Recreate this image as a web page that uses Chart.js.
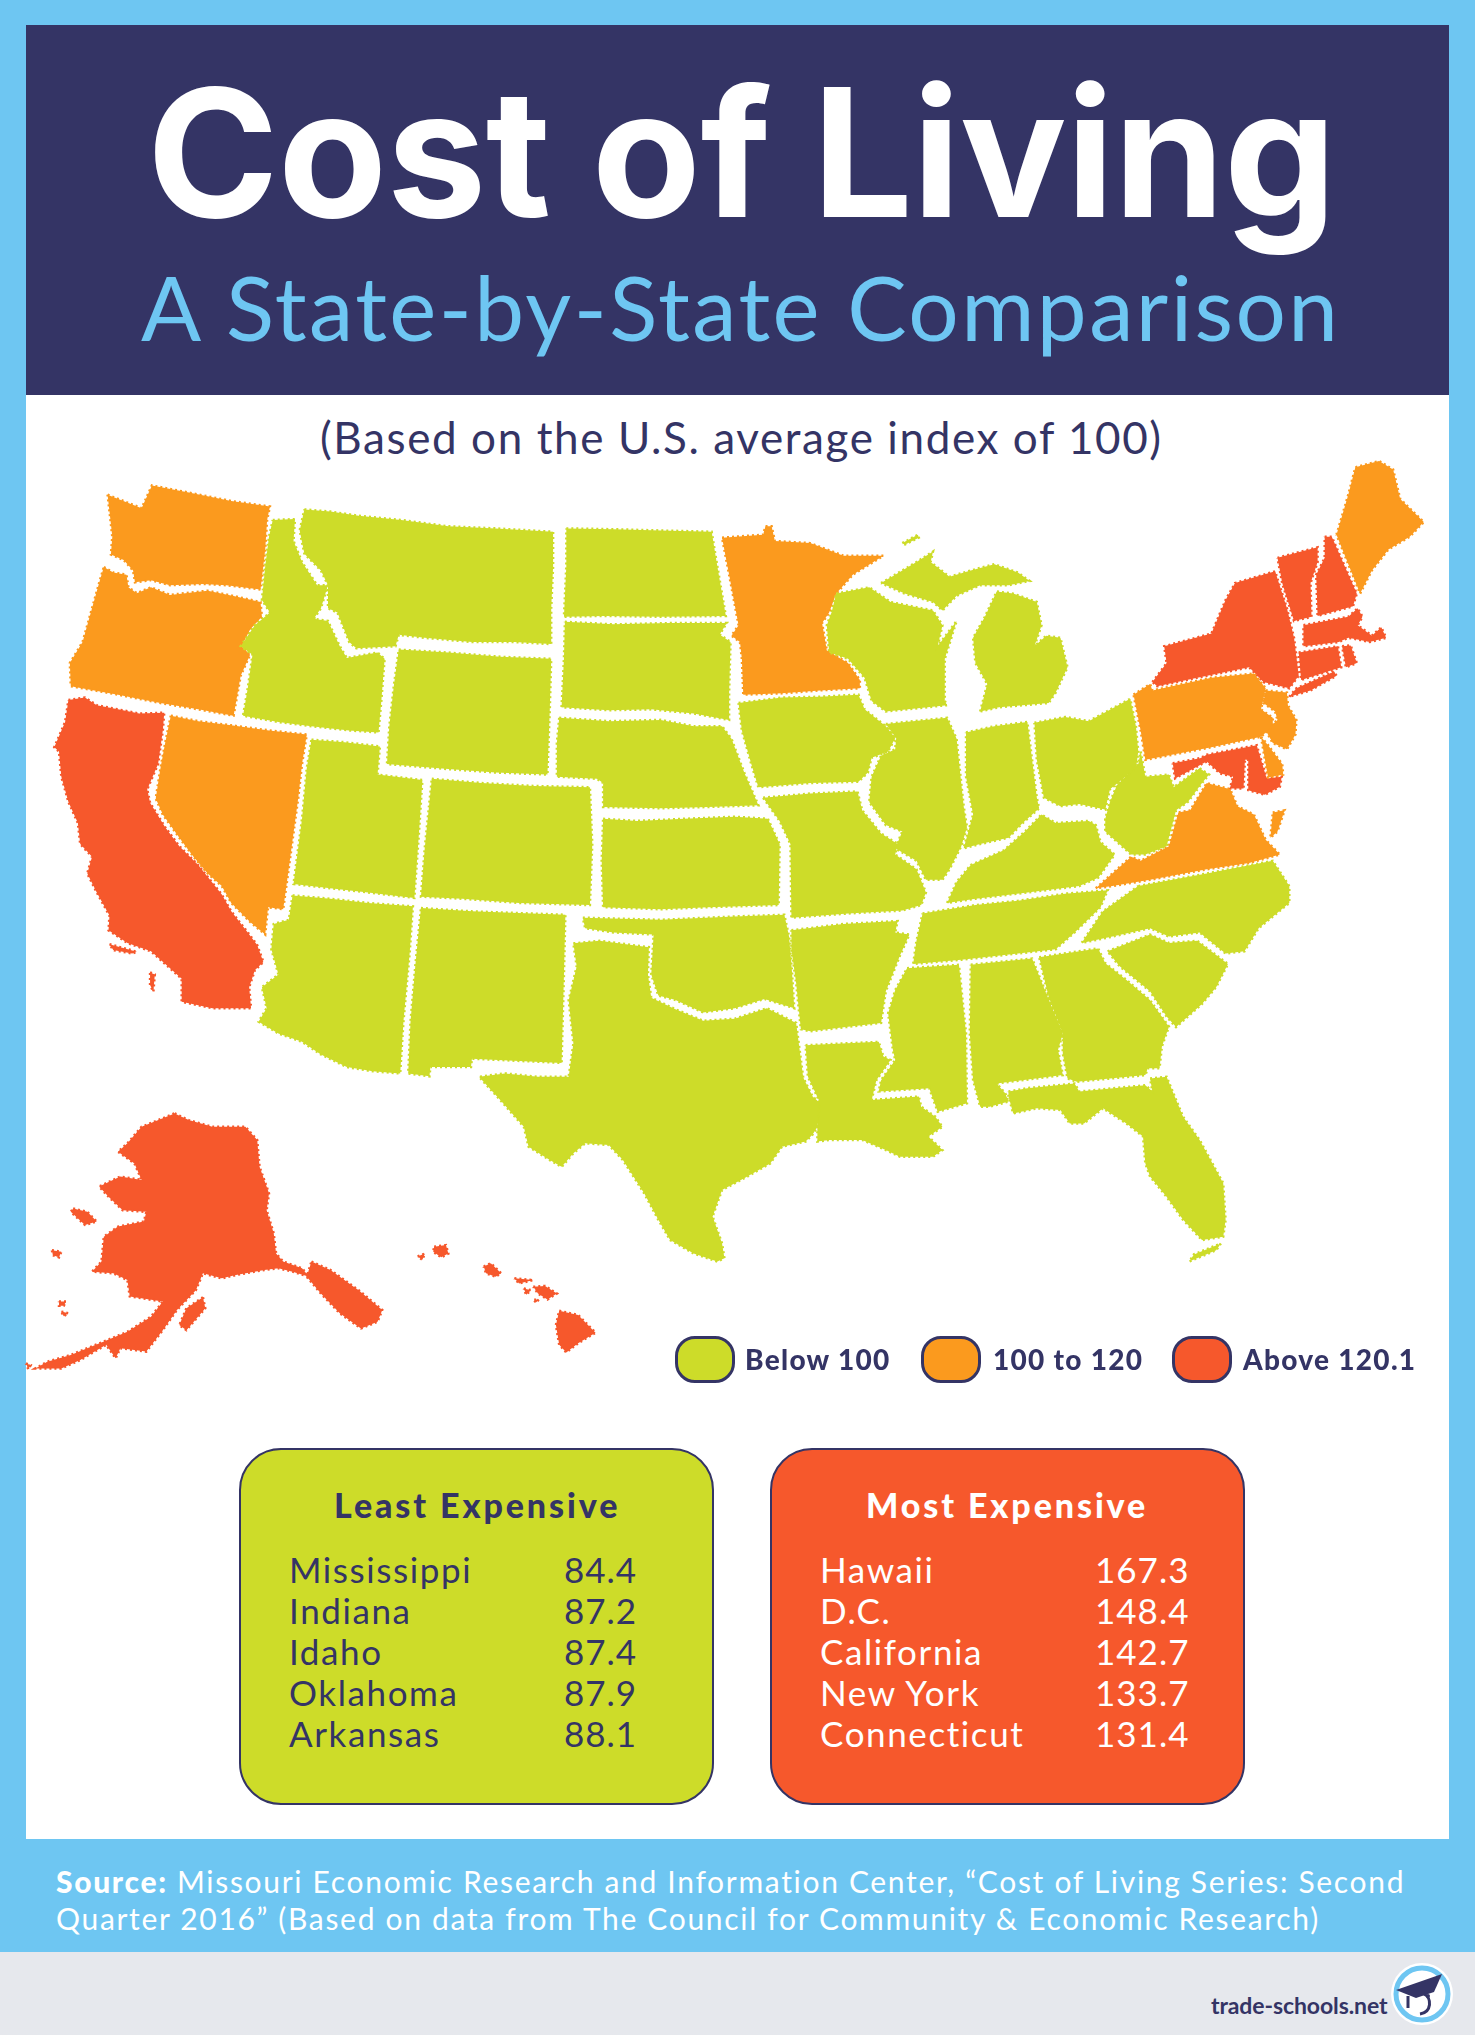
<!DOCTYPE html>
<html>
<head>
<meta charset="utf-8">
<title>Cost of Living</title>
<script src="https://cdn.jsdelivr.net/npm/chart.js@4"></script>
<style>
html,body{margin:0;padding:0;background:#6ec6f2;}
#page{position:relative;width:1475px;height:2035px;overflow:hidden;font-family:Lato,sans-serif;color:#343465;background:#6ec6f2;}
#page div,#page span.t{position:absolute;white-space:nowrap;}
#head{left:26px;top:25px;width:1423px;height:370px;background:#343465;}
#sheet{left:26px;top:395px;width:1423px;height:1444px;background:#fff;}
#foot{left:0;top:1952px;width:1475px;height:83px;background:#e6e8ed;}
#mapWrap{left:0;top:440px;width:1475px;height:960px;}
.box{width:471px;height:353px;border:2px solid #343465;border-radius:42px;box-sizing:content-box;}
.swatch{width:54px;height:41px;border:3px solid #343465;border-radius:20px;}
.legendText{font-weight:900;font-size:28px;letter-spacing:1.3px;line-height:30px;top:1344px;}
</style>
</head>
<body>
<div id="page">
  <div id="head"></div>
  <div id="sheet"></div>
  <div id="foot"></div>
  <div style="left:147px;top:43px;font-family:Inter,Lato,sans-serif;font-size:178px;line-height:220px;font-weight:700;color:#fff;letter-spacing:-0.6px;">Cost of Living</div>
  <div style="left:141px;top:252px;font-size:89px;line-height:110px;color:#6ec6f2;letter-spacing:2.45px;">A State-by-State Comparison</div>
  <div style="left:320px;top:409px;font-size:44px;line-height:56px;letter-spacing:1.6px;">(Based on the U.S. average index of 100)</div>
  <div id="mapWrap"><canvas id="mapChart"></canvas></div>
  <div id="legend"></div>
  <div id="tables"></div>
  <div style="left:56px;top:1863px;font-size:30px;line-height:37px;color:#fff;letter-spacing:1.68px;"><b style="font-weight:900">Source:</b> Missouri Economic Research and Information Center, “Cost of Living Series: Second<br>Quarter 2016” (Based on data from The Council for Community &amp; Economic Research)</div>
  <div style="left:1211px;top:1990px;font-size:23px;line-height:30px;font-weight:700;letter-spacing:-0.1px;">trade-schools.net</div>
  <svg style="position:absolute;left:1390px;top:1962px" width="64" height="64" viewBox="0 0 64 64">
    <circle cx="32" cy="32" r="31" fill="#fff"/>
    <circle cx="32" cy="32" r="26" fill="#fff" stroke="#6ec6f2" stroke-width="5"/>
    <path d="M6 28 L52 12 L44 30 L26 36 Z" fill="#343465"/>
    <path d="M18 34 L18 46 M34 32 C42 36 42 50 30 52" fill="none" stroke="#343465" stroke-width="3"/>
    <circle cx="38" cy="34" r="2" fill="#343465"/>
  </svg>
</div>
<script>
// state outlines, in map units
const WA = [[[228,130],[300,162],[322,108],[400,125],[490,145],[572,158],[566,190],[562,260],[552,355],[480,345],[430,342],[360,345],[320,333],[286,338],[282,310],[262,285],[235,272],[238,230],[232,170]]];
const OR = [[[220,302],[240,315],[268,320],[272,350],[290,364],[320,350],[360,368],[440,358],[500,372],[552,385],[555,420],[530,450],[512,490],[530,510],[510,560],[495,655],[420,640],[340,625],[250,605],[150,585],[148,530],[175,480],[195,400],[210,340]]];
const CA = [[[145,618],[180,612],[205,630],[250,640],[295,650],[348,648],[345,690],[335,770],[312,830],[318,862],[350,920],[380,965],[420,1010],[445,1045],[470,1080],[490,1120],[525,1170],[545,1200],[558,1240],[540,1260],[528,1300],[532,1350],[450,1350],[385,1335],[385,1280],[355,1250],[320,1215],[270,1195],[230,1165],[232,1130],[205,1075],[185,1030],[195,990],[170,960],[165,910],[145,860],[130,800],[125,740],[115,730],[138,670]],
  [[232,1198],[290,1216],[280,1220],[240,1212]],[[318,1265],[328,1270],[325,1311],[318,1295]]];
const NV = [[[362,655],[420,668],[490,678],[570,690],[650,700],[640,770],[632,850],[620,950],[608,1050],[600,1115],[568,1110],[562,1175],[530,1145],[490,1100],[470,1060],[440,1030],[410,990],[380,945],[345,890],[330,852],[340,780],[350,720]]];
const ID = [[[578,190],[625,188],[622,240],[640,290],[672,345],[695,345],[680,400],[665,425],[695,430],[720,490],[735,518],[800,505],[815,520],[808,620],[802,695],[740,690],[660,680],[590,670],[515,655],[525,590],[535,510],[510,490],[540,440],[572,410],[555,380],[562,300],[570,230]]];
const MT = [[[645,165],[700,170],[760,180],[850,190],[950,205],[1050,210],[1172,218],[1172,300],[1168,400],[1168,485],[1090,480],[1000,480],[900,470],[845,463],[838,490],[755,495],[740,480],[715,410],[695,400],[695,345],[680,310],[645,270],[635,215]]];
const WY = [[[845,498],[950,505],[1060,515],[1168,520],[1165,640],[1160,795],[1050,790],[950,782],[820,770],[825,680],[835,580]]];
const CO = [[[915,805],[1020,815],[1130,822],[1250,825],[1255,960],[1250,1105],[1100,1100],[980,1090],[892,1085],[900,970],[910,860]]];
const UT = [[[660,712],[730,718],[805,728],[800,795],[895,808],[888,930],[878,1088],[780,1075],[700,1065],[622,1055],[640,900],[650,780]]];
const AZ = [[[620,1082],[700,1090],[780,1100],[875,1108],[868,1220],[855,1380],[848,1505],[790,1500],[735,1490],[680,1460],[640,1430],[590,1410],[548,1382],[565,1350],[555,1300],[590,1270],[575,1210],[580,1150],[612,1140]]];
const NM = [[[892,1112],[1000,1120],[1198,1128],[1195,1270],[1190,1480],[1000,1470],[998,1490],[912,1490],[910,1512],[865,1505],[870,1380],[880,1250]]];
const ND = [[[1200,210],[1300,212],[1400,215],[1508,218],[1520,300],[1538,418],[1400,420],[1280,418],[1195,420],[1200,300]]];
const SD = [[[1197,432],[1300,438],[1420,435],[1540,435],[1525,462],[1548,480],[1545,600],[1545,665],[1470,650],[1380,640],[1290,642],[1190,635],[1195,520]]];
const NE = [[[1185,660],[1290,668],[1400,665],[1470,680],[1530,680],[1550,710],[1577,790],[1607,868],[1500,872],[1400,875],[1278,872],[1278,815],[1265,805],[1180,800],[1180,720]]];
const KS = [[[1278,900],[1350,905],[1450,900],[1557,895],[1627,900],[1652,960],[1650,1105],[1500,1110],[1400,1115],[1278,1110],[1275,1000]]];
const OK = [[[1235,1135],[1400,1140],[1557,1132],[1662,1128],[1672,1180],[1678,1260],[1683,1350],[1620,1328],[1557,1350],[1490,1360],[1430,1330],[1395,1320],[1380,1270],[1385,1175],[1300,1170],[1240,1160]]];
const TX = [[[1215,1196],[1270,1190],[1375,1205],[1373,1270],[1380,1325],[1430,1352],[1490,1380],[1557,1375],[1625,1350],[1687,1385],[1702,1515],[1722,1560],[1737,1575],[1732,1632],[1722,1650],[1707,1667],[1657,1679],[1632,1719],[1577,1754],[1530,1782],[1510,1845],[1530,1909],[1535,1944],[1520,1952],[1470,1933],[1420,1901],[1395,1853],[1365,1790],[1320,1711],[1290,1675],[1240,1671],[1215,1695],[1190,1727],[1165,1711],[1120,1679],[1110,1632],[1060,1568],[1015,1513],[1070,1505],[1140,1513],[1205,1513],[1215,1434],[1205,1331],[1222,1251]]];
const MN = [[[1530,232],[1617,225],[1622,205],[1635,205],[1642,240],[1717,245],[1787,275],[1872,275],[1807,320],[1772,365],[1757,410],[1742,435],[1752,500],[1797,530],[1822,570],[1822,590],[1737,595],[1657,602],[1575,605],[1572,520],[1568,480],[1550,465],[1565,440],[1545,320]]];
const IA = [[[1565,625],[1657,612],[1737,610],[1819,605],[1832,640],[1877,680],[1897,708],[1882,740],[1847,755],[1839,790],[1819,812],[1717,815],[1607,825],[1592,770],[1572,690]]];
const MO = [[[1617,850],[1717,840],[1817,835],[1827,880],[1867,935],[1902,960],[1897,985],[1942,1020],[1962,1075],[1952,1105],[1912,1118],[1797,1125],[1677,1135],[1675,960],[1652,905]]];
const AR = [[[1677,1165],[1787,1150],[1902,1143],[1897,1170],[1927,1175],[1907,1225],[1877,1310],[1867,1385],[1792,1395],[1717,1405],[1697,1400],[1687,1290],[1677,1210]]];
const LA = [[[1707,1438],[1862,1430],[1872,1465],[1887,1473],[1857,1521],[1847,1568],[1947,1560],[1952,1584],[1982,1608],[1997,1632],[1967,1655],[1997,1687],[1977,1703],[1907,1703],[1877,1687],[1827,1663],[1757,1663],[1732,1667],[1732,1600],[1735,1568],[1712,1513]]];
const MS = [[[1922,1255],[2032,1247],[2047,1410],[2049,1576],[1987,1596],[1969,1540],[1862,1548],[1867,1521],[1897,1473],[1892,1449],[1882,1362],[1897,1307]]];
const AL = [[[2057,1247],[2187,1232],[2217,1315],[2252,1410],[2242,1449],[2252,1509],[2112,1529],[2130,1552],[2137,1572],[2097,1584],[2077,1584],[2062,1521],[2055,1410]]];
const GA = [[[2202,1229],[2327,1208],[2342,1243],[2387,1283],[2437,1331],[2477,1394],[2462,1441],[2457,1493],[2432,1493],[2427,1509],[2282,1525],[2262,1517],[2252,1457],[2252,1410],[2222,1323]]];
const FL = [[[2137,1548],[2177,1540],[2277,1529],[2287,1548],[2427,1533],[2442,1548],[2437,1517],[2472,1513],[2507,1608],[2542,1663],[2592,1766],[2597,1853],[2592,1893],[2547,1901],[2507,1853],[2472,1798],[2437,1750],[2427,1719],[2422,1655],[2387,1624],[2337,1588],[2297,1624],[2267,1624],[2247,1592],[2197,1588],[2147,1600],[2137,1560]],
  [[2587,1909],[2577,1925],[2520,1952],[2530,1935]]];
const TN = [[[1955,1125],[2067,1105],[2157,1095],[2257,1078],[2347,1070],[2332,1110],[2277,1170],[2237,1210],[2157,1220],[2037,1235],[1935,1245],[1942,1190]]];
const KY = [[[2007,1100],[2027,1050],[2057,1010],[2127,975],[2172,930],[2207,890],[2237,910],[2307,905],[2322,915],[2332,955],[2362,985],[2327,1040],[2287,1060],[2177,1075],[2067,1090]]];
const IL = [[[1877,675],[2007,660],[2027,710],[2042,870],[2049,920],[2037,965],[2012,1020],[1997,1045],[1962,1045],[1942,1000],[1897,970],[1912,930],[1877,915],[1842,860],[1847,800],[1867,750],[1897,735],[1899,708]]];
const IN = [[[2047,695],[2107,680],[2177,670],[2197,850],[2202,875],[2167,910],[2137,945],[2077,960],[2042,970],[2062,890],[2047,800]]];
const OH = [[[2192,672],[2257,658],[2307,668],[2395,615],[2407,680],[2412,740],[2407,780],[2352,830],[2342,878],[2287,865],[2247,870],[2212,850],[2197,760]]];
const MI = [[[2077,645],[2092,580],[2067,530],[2062,470],[2087,420],[2112,360],[2147,365],[2197,385],[2207,440],[2192,490],[2217,465],[2247,470],[2262,540],[2237,600],[2222,625],[2117,635]],
  [[1867,340],[1897,320],[1942,290],[1977,265],[1972,290],[2012,325],[2057,310],[2107,295],[2157,315],[2182,335],[2137,345],[2077,345],[2027,370],[1997,405],[1977,385],[1917,365]],
  [[1912,245],[1945,225],[1947,232],[1918,248]]];
const WI = [[[1772,365],[1842,350],[1887,385],[1977,405],[1997,440],[1987,490],[2027,430],[2002,520],[2002,620],[2007,630],[1877,645],[1847,620],[1832,565],[1797,520],[1757,505],[1752,440],[1762,410]]];
const WV = [[[2417,740],[2427,800],[2477,795],[2487,825],[2542,780],[2562,795],[2547,815],[2517,860],[2492,880],[2472,965],[2427,985],[2397,985],[2342,930],[2342,900],[2352,860],[2367,820],[2412,770]]];
const VA = [[[2322,1065],[2397,990],[2417,1000],[2477,965],[2497,885],[2522,880],[2557,815],[2607,830],[2622,870],[2657,890],[2682,950],[2712,985],[2647,1005],[2557,1020],[2437,1045],[2357,1060]],
  [[2697,885],[2722,880],[2707,930],[2692,945]]];
const NC = [[[2412,1060],[2557,1030],[2697,1000],[2732,1060],[2732,1100],[2667,1160],[2637,1215],[2597,1220],[2542,1170],[2477,1180],[2437,1160],[2357,1180],[2292,1195],[2337,1120]]];
const SC = [[[2347,1215],[2437,1175],[2477,1195],[2537,1190],[2602,1245],[2577,1300],[2547,1340],[2492,1395],[2472,1370],[2437,1310],[2372,1250]]];
const PA = [[[2402,605],[2437,580],[2442,595],[2567,565],[2657,555],[2682,590],[2672,640],[2697,660],[2697,680],[2672,705],[2567,730],[2427,760],[2417,690]]];
const NY = [[[2442,575],[2472,530],[2467,490],[2567,460],[2597,380],[2617,340],[2702,312],[2727,400],[2742,470],[2752,560],[2732,590],[2677,575],[2647,540],[2537,565],[2452,585]],
  [[2732,610],[2747,590],[2827,550],[2832,560],[2777,595]]];
const VT = [[[2707,280],[2792,255],[2792,290],[2777,340],[2779,420],[2742,430],[2717,340]]];
const NH = [[[2807,230],[2822,230],[2875,365],[2867,395],[2792,418],[2789,320],[2807,280]]];
const ME = [[[2832,225],[2857,130],[2872,65],[2922,50],[2952,70],[2967,140],[3017,195],[2987,230],[2942,260],[2907,310],[2882,365]]];
const MA = [[[2762,440],[2857,420],[2877,400],[2887,420],[2877,440],[2907,465],[2927,445],[2937,470],[2902,480],[2882,475],[2857,470],[2837,480],[2762,490]]];
const CT = [[[2752,505],[2835,490],[2842,540],[2757,570]]];
const RI = [[[2844,490],[2862,488],[2875,530],[2852,540]]];
const NJ = [[[2682,595],[2727,600],[2729,630],[2747,665],[2745,700],[2727,735],[2697,720],[2682,690],[2707,665],[2702,645],[2677,625]]];
const DE = [[[2672,705],[2687,725],[2717,770],[2719,795],[2687,802]]];
const MD = [[[2485,768],[2543,756],[2557,748],[2663,725],[2684,804],[2716,800],[2712,824],[2680,843],[2645,832],[2645,760],[2638,760],[2635,828],[2606,828],[2613,800],[2585,792],[2557,764],[2543,772],[2490,804]]];
const AK = [[[370,1600],[400,1616],[450,1632],[520,1632],[545,1663],[550,1727],[570,1790],[565,1830],[580,1885],[585,1933],[600,1952],[640,1968],[655,1988],[620,1976],[590,1968],[560,1972],[500,1984],[470,1992],[430,1980],[415,2020],[375,2067],[345,2115],[310,2166],[255,2158],[245,2182],[225,2150],[170,2186],[130,2206],[75,2206],[100,2190],[150,2174],[220,2142],[270,2119],[320,2083],[345,2047],[275,2035],[270,1996],[240,1980],[195,1976],[215,1952],[220,1893],[250,1869],[305,1857],[310,1834],[260,1830],[230,1798],[210,1774],[255,1750],[300,1758],[285,1719],[250,1691],[270,1671],[300,1632]],
  [[660,1952],[700,1972],[760,2020],[810,2067],[800,2095],[765,2111],[720,2075],[680,2028],[650,1988]],
  [[430,2037],[435,2063],[395,2115],[380,2103],[395,2063]],
  [[155,1826],[185,1834],[205,1857],[180,1865],[150,1834]],
  [[110,1925],[130,1929],[125,1942],[112,1937]],
  [[125,2047],[140,2047],[135,2057],[125,2057]],
  [[130,2071],[145,2075],[135,2082]],
  [[55,2194],[65,2198],[60,2208]]];
const HI = [[[885,1940],[900,1933],[895,1948]],
  [[920,1917],[945,1913],[950,1933],[935,1942],[918,1929]],
  [[1025,1964],[1040,1956],[1062,1980],[1050,1988],[1030,1980]],
  [[1090,1992],[1130,1996],[1100,2004]],
  [[1110,2016],[1125,2020],[1115,2031]],
  [[1130,2012],[1155,2010],[1180,2028],[1160,2042],[1140,2028]],
  [[1132,2043],[1142,2042],[1135,2050]],
  [[1185,2069],[1225,2079],[1262,2121],[1225,2146],[1200,2168],[1185,2150],[1178,2103]]];

// cost of living bands
const bandLabels = ['Below 100', '100 to 120', 'Above 120.1'];
const bandColors = ['#cddc29', '#fb9a1e', '#f6582c'];
const belowStates = [ID, MT, WY, CO, UT, AZ, NM, ND, SD, NE, KS, OK, TX, IA, MO, AR, LA, MS, AL, GA, FL, TN, KY, IL, IN, OH, MI, WI, WV, NC, SC];
const midStates = [WA, OR, NV, MN, VA, PA, NJ, DE, ME];
const aboveStates = [CA, NY, VT, NH, MA, CT, RI, MD, AK, HI];

// the two tables
const leastStates = ['Mississippi', 'Indiana', 'Idaho', 'Oklahoma', 'Arkansas'];
const leastValues = ['84.4', '87.2', '87.4', '87.9', '88.1'];
const mostStates = ['Hawaii', 'D.C.', 'California', 'New York', 'Connecticut'];
const mostValues = ['167.3', '148.4', '142.7', '133.7', '131.4'];

// each ring of each state is one filled line dataset, the dashed border roughens the edge
const datasets = [];
[belowStates, midStates, aboveStates].forEach((group, band) => {
    group.forEach(state => {
        state.forEach(ring => {
            datasets.push({
                data: ring.concat([ring[0]]).map(p => ({x: p[0], y: p[1]})),
                showLine: true,
                fill: 'shape',
                backgroundColor: bandColors[band],
                borderColor: bandColors[band],
                borderWidth: 2.5,
                borderDash: [2, 3],
                pointRadius: 0
            });
        });
    });
});

new Chart(document.getElementById('mapChart'), {
    type: 'scatter',
    data: {datasets: datasets},
    options: {
        responsive: true,
        maintainAspectRatio: false,
        animation: false,
        events: [],
        layout: {padding: 0},
        plugins: {legend: {display: false}, tooltip: {enabled: false}},
        scales: {
            x: {type: 'linear', display: false, min: 0, max: 3125.5},
            y: {type: 'linear', display: false, min: 0, max: 2281, reverse: true}
        }
    }
});

// legend under the map
const legendX = [[675, 745], [921, 993], [1172, 1243]];
const legend = document.getElementById('legend');
bandLabels.forEach((label, i) => {
    legend.insertAdjacentHTML('beforeend',
        '<div class="swatch" style="left:' + legendX[i][0] + 'px;top:1336px;background:' + bandColors[i] + '"></div>' +
        '<div class="legendText" style="left:' + legendX[i][1] + 'px">' + label + '</div>');
});

// least / most expensive boxes
function addTable(left, fill, color, title, titleX, names, values) {
    const el = document.getElementById('tables');
    let html = '<div class="box" style="left:' + (left - 1) + 'px;top:1448px;background:' + fill + '"></div>';
    html += '<div style="left:' + titleX + 'px;top:1484px;font-size:34px;line-height:42px;font-weight:900;letter-spacing:2.9px;color:' + color + '">' + title + '</div>';
    names.forEach((n, i) => {
        const top = 1547 + i * 41;
        html += '<div style="left:' + (left + 49) + 'px;top:' + top + 'px;font-size:35px;line-height:44px;letter-spacing:1.6px;color:' + color + '">' + n + '</div>';
        html += '<div style="left:' + (left + 324) + 'px;top:' + top + 'px;font-size:35px;line-height:44px;letter-spacing:1px;color:' + color + '">' + values[i] + '</div>';
    });
    el.insertAdjacentHTML('beforeend', html);
}
addTable(240, bandColors[0], '#343465', 'Least Expensive', 334, leastStates, leastValues);
addTable(771, bandColors[2], '#ffffff', 'Most Expensive', 866, mostStates, mostValues);
</script>
</body>
</html>
